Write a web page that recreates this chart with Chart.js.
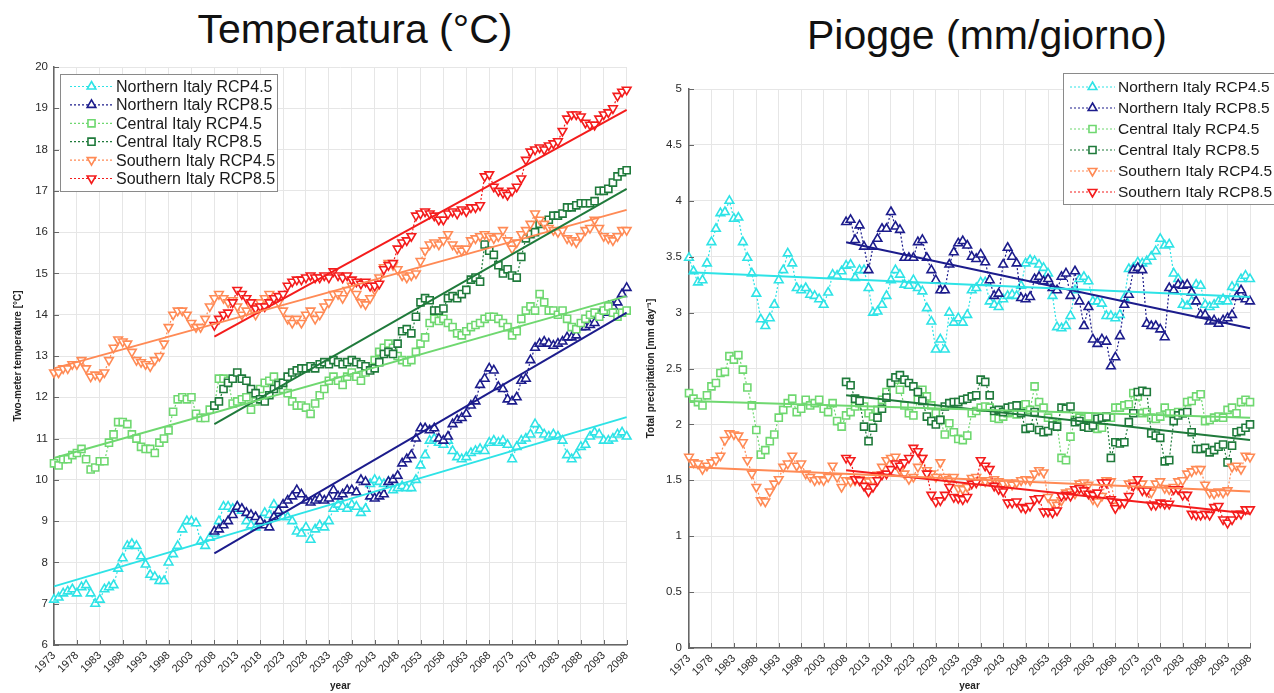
<!DOCTYPE html>
<html>
<head>
<meta charset="utf-8">
<script src="https://cdn.jsdelivr.net/npm/chart.js@4.4.1/dist/chart.umd.min.js"></script>
<style>
body { margin: 0; background: #fff; width: 1274px; height: 693px; overflow: hidden; position: relative; font-family: "Liberation Sans", Arial, sans-serif; }
.title { position: absolute; width: 420px; text-align: center; font-size: 41px; line-height: 41px; color: #111; }
#tempTitle { left: 145px; top: 9px; }
#rainTitle { left: 777px; top: 15px; }
#tempBox { position: absolute; left: 0; top: 0; }
#rainBox { position: absolute; left: 640px; top: 0; }
</style>
</head>
<body>
<div class="title" id="tempTitle">Temperatura (°C)</div>
<div class="title" id="rainTitle">Piogge (mm/giorno)</div>
<div id="tempBox"><canvas id="tempChart" width="640" height="693"></canvas></div>
<div id="rainBox"><canvas id="rainChart" width="634" height="693"></canvas></div>
<script>
// years: RCP4.5 runs cover 1973-2098, RCP8.5 runs start in 2008
const years = [];
for (let y = 1973; y <= 2098; y++) years.push(y);
const years85 = years.filter(y => y >= 2008);
const tickYears = [1973, 1978, 1983, 1988, 1993, 1998, 2003, 2008, 2013, 2018, 2023, 2028, 2033,
  2038, 2043, 2048, 2053, 2058, 2063, 2068, 2073, 2078, 2083, 2088, 2093, 2098];

const seriesLabels = ['Northern Italy RCP4.5', 'Northern Italy RCP8.5', 'Central Italy RCP4.5',
  'Central Italy RCP8.5', 'Southern Italy RCP4.5', 'Southern Italy RCP8.5'];

// temperature [°C]
const tNorth45 = [
  7.1, 7.15, 7.25, 7.3, 7.35, 7.25, 7.4, 7.45, 7.25, 7.0,
  7.1, 7.35, 7.4, 7.45, 7.85, 8.1, 8.4, 8.45, 8.4, 8.15,
  7.95, 7.7, 7.65, 7.55, 7.55, 8.0, 8.2, 8.4, 8.8, 9.0,
  9.0, 8.95, 8.5, 8.4, 8.6, 8.7, 9.0, 9.35, 9.35, 9.3,
  9.35, 9.25, 9.0, 8.9, 8.85, 9.0, 9.2, 9.15, 9.4, 9.2,
  9.1, 9.1, 9.0, 8.75, 8.7, 8.85, 8.55, 8.8, 8.9, 8.85,
  9.0, 9.3, 9.4, 9.35, 9.3, 9.4, 9.35, 9.2, 9.3, 9.9,
  10.0, 9.95, 9.9, 9.95, 9.75, 9.8, 9.85, 9.8, 9.8, 10.0,
  10.35, 10.6, 10.95, 11.0, 10.9, 10.85, 10.95, 10.7, 10.55, 10.5,
  10.55, 10.65, 10.7, 10.75, 10.7, 10.9, 10.95, 10.9, 10.95, 10.85,
  10.5, 10.8, 10.95, 11.0, 11.1, 11.35, 11.2, 11.1, 11.05, 11.1,
  11.05, 10.95, 10.6, 10.5, 10.6, 10.8, 10.85, 11.05, 11.15, 11.1,
  10.95, 10.95, 11.0, 11.1, 11.15, 11.05];
const tNorth85 = [
  8.75, 8.8, 8.9, 9.0, 9.15, 9.35, 9.3, 9.2, 9.15, 9.1,
  9.0, 8.9, 8.85, 9.1, 9.25, 9.4, 9.5, 9.6, 9.75, 9.65,
  9.5, 9.45, 9.5, 9.55, 9.5, 9.55, 9.75, 9.6, 9.65, 9.75,
  9.75, 9.7, 10.0, 9.95, 9.6, 9.55, 9.6, 9.65, 9.95, 10.0,
  10.1, 10.4, 10.5, 10.6, 11.0, 11.25, 11.25, 11.2, 11.25, 11.0,
  10.95, 11.05, 11.35, 11.45, 11.5, 11.6, 11.8, 11.9, 12.3, 12.45,
  12.7, 12.65, 12.25, 12.2, 11.95, 11.9, 12.0, 12.4, 12.45, 12.9,
  13.2, 13.3, 13.35, 13.3, 13.25, 13.3, 13.35, 13.45, 13.45, 13.5,
  13.7, 13.7, 13.75, 13.8, 14.0, 14.05, 14.2, 14.2, 14.3, 14.5,
  14.65];
const tCentral45 = [
  10.4, 10.35, 10.5, 10.5, 10.6, 10.65, 10.75, 10.5, 10.25, 10.3,
  10.45, 10.45, 10.9, 11.1, 11.4, 11.4, 11.35, 11.1, 11.0, 10.8,
  10.75, 10.75, 10.65, 10.9, 11.0, 11.2, 11.65, 11.95, 12.0, 11.95,
  12.0, 11.6, 11.5, 11.5, 11.7, 11.8, 12.45, 12.45, 12.4, 11.85,
  11.9, 11.95, 12.0, 11.7, 11.9, 12.2, 12.35, 12.4, 12.5, 12.35,
  12.2, 12.1, 11.9, 11.8, 11.8, 11.75, 11.6, 11.85, 12.05, 12.2,
  12.4, 12.5, 12.4, 12.3, 12.5, 12.6, 12.5, 12.4, 12.6, 12.7,
  12.9, 13.1, 13.2, 13.3, 13.2, 13.0, 12.9, 12.85, 12.9, 13.1,
  13.3, 13.45, 13.8, 13.9, 13.85, 13.9, 13.8, 13.7, 13.55, 13.5,
  13.6, 13.7, 13.75, 13.8, 13.9, 13.95, 13.95, 13.9, 13.8, 13.7,
  13.5, 13.6, 13.9, 14.1, 14.2, 14.1, 14.5, 14.3, 14.1, 14.1,
  14.0, 14.1, 13.9, 13.7, 13.65, 13.8, 13.9, 14.0, 14.05, 13.95,
  14.1, 14.2, 14.05, 13.95, 14.05, 14.1];
const tCentral85 = [
  11.8, 11.9, 12.2, 12.35, 12.45, 12.6, 12.45, 12.4, 12.2, 12.1,
  11.95, 11.9, 12.05, 12.2, 12.3, 12.35, 12.5, 12.6, 12.65, 12.7,
  12.7, 12.75, 12.7, 12.8, 12.85, 12.8, 12.9, 12.85, 12.8, 12.85,
  12.9, 12.85, 12.8, 12.75, 12.65, 12.7, 12.85, 13.05, 13.1, 13.05,
  13.3, 13.6, 13.65, 13.55, 13.95, 14.3, 14.4, 14.35, 14.1, 14.1,
  14.15, 14.4, 14.45, 14.4, 14.5, 14.6, 14.85, 14.9, 14.8, 15.7,
  15.55, 15.45, 15.2, 15.0, 15.1, 14.95, 14.9, 15.4, 15.85, 15.95,
  16.0, 16.2, 16.25, 16.3, 16.4, 16.4, 16.45, 16.6, 16.6, 16.65,
  16.7, 16.7, 16.7, 16.75, 17.0, 17.0, 17.05, 17.2, 17.35, 17.45,
  17.5];
const tSouth45 = [
  12.6, 12.6, 12.7, 12.7, 12.8, 12.8, 12.9, 12.7, 12.5, 12.55,
  12.5, 12.6, 12.9, 13.2, 13.4, 13.35, 13.3, 13.1, 12.9, 12.85,
  12.8, 12.75, 12.9, 13.0, 13.3, 13.7, 14.0, 14.1, 14.1, 14.0,
  13.8, 13.7, 13.7, 13.9, 14.2, 14.4, 14.5, 14.4, 14.3, 14.35,
  14.2, 14.0, 14.1, 14.2, 14.0, 14.3, 14.4, 14.5, 14.4, 14.3,
  14.1, 13.9, 13.8, 13.9, 13.8, 14.0, 14.1, 13.9, 14.0, 14.2,
  14.3, 14.5, 14.5, 14.4, 14.6, 14.7, 14.5, 14.3, 14.25, 14.4,
  14.6, 14.9, 15.15, 15.25, 15.2, 15.1, 14.95, 14.9, 14.95, 15.0,
  15.3, 15.55, 15.7, 15.75, 15.7, 15.8, 15.95, 15.7, 15.6, 15.55,
  15.6, 15.8, 15.85, 15.9, 15.95, 15.9, 15.85, 15.9, 16.05, 15.8,
  15.6, 15.75, 15.95, 16.05, 16.2, 16.45, 16.3, 16.2, 16.1, 16.05,
  16.0, 16.05, 15.85, 15.8, 15.75, 15.9, 16.05, 16.1, 16.3, 16.1,
  15.9, 15.85, 15.8, 15.9, 16.05, 16.05];
const tSouth85 = [
  13.75, 13.9, 14.0, 14.05, 14.3, 14.6, 14.5, 14.4, 14.3, 14.15,
  14.2, 14.2, 14.3, 14.4, 14.45, 14.5, 14.7, 14.8, 14.85, 14.85,
  14.9, 14.95, 14.9, 14.9, 14.95, 14.9, 15.05, 14.95, 14.9, 14.95,
  14.85, 14.8, 14.75, 14.8, 14.7, 14.7, 14.75, 15.1, 15.2, 15.25,
  15.6, 15.75, 15.8, 15.9, 16.4, 16.45, 16.5, 16.45, 16.4, 16.3,
  16.3, 16.45, 16.5, 16.45, 16.55, 16.5, 16.6, 16.6, 16.65, 17.35,
  17.4, 17.1, 17.0, 16.95, 16.9, 17.0, 17.1, 17.3, 17.75, 17.95,
  18.0, 18.05, 18.0, 18.1, 18.15, 18.2, 18.45, 18.75, 18.85, 18.85,
  18.8, 18.65, 18.6, 18.6, 18.75, 18.85, 18.9, 19.0, 19.3, 19.4,
  19.45];
// linear trend, value at first and last year
const tTrendNorth45 = [7.42, 11.52];
const tTrendNorth85 = [8.22, 14.05];
const tTrendCentral45 = [10.53, 14.45];
const tTrendCentral85 = [11.35, 17.05];
const tTrendSouth45 = [12.7, 16.54];
const tTrendSouth85 = [13.47, 18.96];

// precipitation [mm/day]
const pNorth45 = [
  3.49, 3.37, 3.27, 3.29, 3.44, 3.63, 3.75, 3.89, 3.9, 4.0,
  3.84, 3.85, 3.63, 3.49, 3.35, 3.17, 2.94, 2.88, 2.95, 3.07,
  3.29, 3.38, 3.53, 3.44, 3.22, 3.2, 3.22, 3.16, 3.15, 3.12,
  3.07, 3.18, 3.34, 3.33, 3.37, 3.42, 3.43, 3.31, 3.38, 3.38,
  3.22, 3.0, 3.01, 3.07, 3.15, 3.29, 3.38, 3.34, 3.25, 3.24,
  3.29, 3.22, 3.19, 3.04, 2.92, 2.67, 2.76, 2.67, 3.0, 2.91,
  2.95, 2.91, 2.98, 3.2, 3.22, 3.27, 3.27, 3.1, 3.07, 3.05,
  3.12, 3.15, 3.16, 3.15, 3.24, 3.44, 3.47, 3.46, 3.43, 3.4,
  3.35, 3.15, 2.87, 2.86, 2.88, 2.97, 3.2, 3.3, 3.32, 3.28,
  3.1, 3.1, 3.08, 2.97, 2.97, 2.95, 2.98, 3.13, 3.39, 3.4,
  3.45, 3.44, 3.46, 3.5, 3.55, 3.66, 3.6, 3.61, 3.35, 3.3,
  3.07, 3.06, 3.1, 3.25, 3.24, 3.07, 3.05, 3.07, 3.1, 3.12,
  3.1, 3.23, 3.22, 3.3, 3.33, 3.3];
const pNorth85 = [
  3.81, 3.83, 3.65, 3.78, 3.59, 3.38, 3.59, 3.66, 3.75, 3.75,
  3.9, 3.77, 3.74, 3.49, 3.49, 3.49, 3.63, 3.65, 3.49, 3.38,
  3.29, 3.2, 3.2, 3.43, 3.54, 3.62, 3.64, 3.6, 3.5, 3.48,
  3.52, 3.45, 3.29, 3.15, 3.17, 3.43, 3.58, 3.5, 3.44, 3.13,
  3.12, 3.14, 3.3, 3.32, 3.28, 3.3, 3.22, 3.2, 3.32, 3.35,
  3.15, 3.37, 3.1, 2.88, 3.05, 2.76, 2.72, 2.76, 2.74, 2.52,
  2.6, 2.79, 3.07, 3.16, 3.38, 3.4, 3.38, 2.9, 2.88, 2.88,
  2.85, 2.78, 3.22, 3.2, 3.25, 3.24, 3.25, 3.18, 3.1, 2.98,
  2.98, 2.92, 2.93, 2.9, 2.93, 2.95, 2.98, 3.14, 3.2, 3.12,
  3.1];
const pCentral45 = [
  2.28, 2.23, 2.2, 2.17, 2.26, 2.34, 2.37, 2.46, 2.47, 2.61,
  2.58, 2.62, 2.49, 2.33, 2.17, 1.95, 1.73, 1.77, 1.85, 1.91,
  2.06, 2.13, 2.19, 2.23, 2.11, 2.14, 2.22, 2.17, 2.19, 2.22,
  2.14, 2.11, 2.19, 2.03, 1.98, 2.08, 2.11, 2.16, 2.19, 2.16,
  2.1, 2.07, 2.13, 2.22, 2.29, 2.37, 2.4, 2.31, 2.17, 2.1,
  2.08, 2.22, 2.31, 2.25, 2.17, 2.1, 2.04, 1.91, 2.01, 1.93,
  1.87, 1.86, 1.9, 2.1, 2.12, 2.15, 2.16, 2.15, 2.06, 2.05,
  2.07, 2.1, 2.11, 2.09, 2.17, 2.18, 2.13, 2.34, 2.2, 2.15,
  2.06, 2.02, 2.0, 1.7, 1.68, 1.89, 2.04, 2.06, 2.05, 2.07,
  1.98, 1.96, 1.97, 2.06, 2.06, 2.15, 2.15, 2.17, 2.18, 2.28,
  2.25, 2.1, 2.11, 2.06, 2.05, 2.07, 2.15, 2.1, 2.1, 2.11,
  2.1, 2.2, 2.21, 2.25, 2.27, 2.03, 2.04, 2.06, 2.07, 2.06,
  2.13, 2.15, 2.1, 2.2, 2.22, 2.2];
const pCentral85 = [
  2.38, 2.35, 2.23, 2.21, 1.98, 1.85, 1.97, 2.06, 2.14, 2.24,
  2.37, 2.42, 2.44, 2.4, 2.37, 2.34, 2.29, 2.21, 2.07, 2.03,
  2.0, 2.04, 2.16, 2.19, 2.2, 2.2, 2.22, 2.23, 2.25, 2.26,
  2.4, 2.38, 2.26, 2.12, 2.13, 2.11, 2.15, 2.16, 2.17, 2.1,
  1.96, 1.97, 2.11, 1.95, 1.93, 1.94, 1.99, 1.98, 2.15, 2.14,
  2.16, 2.02, 2.03, 1.98, 1.97, 1.99, 2.05, 2.06, 2.07, 1.7,
  1.84, 1.83, 1.84, 2.02, 2.1, 2.29, 2.3, 2.29, 1.92, 1.9,
  1.88, 1.67, 1.68, 2.03, 2.08, 2.1, 2.11, 1.93, 1.78, 1.78,
  1.79, 1.75, 1.77, 1.8, 1.82, 1.66, 1.81, 1.93, 1.94, 1.97,
  2.0];
const pSouth45 = [
  1.71, 1.66, 1.65, 1.6, 1.63, 1.66, 1.68, 1.72, 1.86, 1.92,
  1.91, 1.9, 1.84, 1.68, 1.56, 1.44, 1.32, 1.31, 1.4, 1.47,
  1.51, 1.62, 1.65, 1.72, 1.63, 1.65, 1.56, 1.53, 1.5, 1.51,
  1.5, 1.53, 1.63, 1.53, 1.44, 1.5, 1.49, 1.5, 1.51, 1.5,
  1.49, 1.5, 1.55, 1.62, 1.68, 1.7, 1.71, 1.59, 1.56, 1.51,
  1.53, 1.62, 1.7, 1.59, 1.56, 1.53, 1.66, 1.53, 1.51, 1.53,
  1.43, 1.42, 1.44, 1.52, 1.53, 1.5, 1.49, 1.5, 1.51, 1.49,
  1.47, 1.48, 1.46, 1.48, 1.5, 1.51, 1.5, 1.56, 1.59, 1.57,
  1.35, 1.3, 1.28, 1.32, 1.39, 1.4, 1.38, 1.47, 1.48, 1.46,
  1.33, 1.31, 1.36, 1.5, 1.49, 1.27, 1.29, 1.3, 1.47, 1.48,
  1.46, 1.47, 1.4, 1.39, 1.47, 1.49, 1.43, 1.42, 1.44, 1.49,
  1.5, 1.56, 1.58, 1.6, 1.6, 1.46, 1.39, 1.38, 1.4, 1.39,
  1.41, 1.62, 1.63, 1.6, 1.72, 1.71];
const pSouth85 = [
  1.7, 1.68, 1.51, 1.5, 1.45, 1.4, 1.44, 1.5, 1.55, 1.56,
  1.6, 1.65, 1.63, 1.66, 1.7, 1.79, 1.76, 1.7, 1.56, 1.37,
  1.31, 1.32, 1.37, 1.44, 1.35, 1.34, 1.33, 1.35, 1.47, 1.48,
  1.68, 1.63, 1.6, 1.45, 1.42, 1.4, 1.3, 1.3, 1.31, 1.26,
  1.25, 1.27, 1.33, 1.34, 1.22, 1.22, 1.21, 1.23, 1.36, 1.37,
  1.36, 1.42, 1.43, 1.41, 1.38, 1.37, 1.39, 1.48, 1.48, 1.33,
  1.25, 1.3, 1.3, 1.36, 1.45, 1.51, 1.41, 1.41, 1.28, 1.28,
  1.3, 1.29, 1.29, 1.42, 1.42, 1.37, 1.37, 1.2, 1.19, 1.19,
  1.2, 1.19, 1.26, 1.27, 1.15, 1.12, 1.15, 1.2, 1.2, 1.24,
  1.24];
const pTrendNorth45 = [3.36, 3.14];
const pTrendNorth85 = [3.63, 2.86];
const pTrendCentral45 = [2.21, 2.06];
const pTrendCentral85 = [2.26, 1.86];
const pTrendSouth45 = [1.62, 1.4];
const pTrendSouth85 = [1.59, 1.2];

const colors = ['#2ee3e6', '#1c1c8c', '#6fd870', '#1f7a3b', '#ff8a55', '#f41c1c'];
const styles = ['triangle', 'triangle', 'rect', 'rect', 'triangle', 'triangle'];
const rotations = [0, 0, 0, 0, 180, 180];
const FONT = '"Liberation Sans", Arial, sans-serif';

function series(i, yrs, vals) {
  return {
    label: seriesLabels[i],
    data: vals.map((v, k) => ({ x: yrs[k], y: v })),
    borderColor: colors[i],
    backgroundColor: '#fff',
    borderWidth: 1.2,
    borderDash: [2, 2],
    pointStyle: styles[i],
    pointRotation: rotations[i],
    pointRadius: 5,
    pointBorderWidth: 1.6,
    pointBackgroundColor: '#fff',
    pointBorderColor: colors[i],
    order: 6 - i,
    clip: false
  };
}

function trend(i, yrs, ends) {
  return {
    isTrend: true,
    data: [{ x: yrs[0], y: ends[0] }, { x: yrs[yrs.length - 1], y: ends[1] }],
    borderColor: colors[i],
    borderWidth: 2,
    pointRadius: 0,
    order: 0,
    clip: false
  };
}

// short inward tick marks on the left and bottom axes
const innerTicks = {
  id: 'innerTicks',
  afterDatasetsDraw(chart) {
    const { ctx, chartArea: a, scales: { x, y } } = chart;
    ctx.save();
    ctx.strokeStyle = '#666';
    ctx.lineWidth = 1;
    ctx.beginPath();
    x.ticks.forEach(t => { const px = Math.round(x.getPixelForValue(t.value)) + 0.5; ctx.moveTo(px, a.bottom); ctx.lineTo(px, a.bottom - 5); });
    y.ticks.forEach(t => { const py = Math.round(y.getPixelForValue(t.value)) + 0.5; ctx.moveTo(a.left, py); ctx.lineTo(a.left + 5, py); });
    ctx.stroke();
    ctx.restore();
  }
};

// matlab style legend box drawn inside the plot
const legendBox = {
  id: 'legendBox',
  afterDraw(chart, args, o) {
    const ctx = chart.ctx;
    ctx.save();
    ctx.fillStyle = '#fff';
    ctx.fillRect(o.x, o.y, o.w, o.h);
    ctx.strokeStyle = '#8a8a8a';
    ctx.lineWidth = 1;
    ctx.strokeRect(o.x + 0.5, o.y + 0.5, o.w, o.h);
    ctx.font = o.font;
    ctx.textBaseline = 'middle';
    chart.data.datasets.filter(d => !d.isTrend).forEach((d, i) => {
      const cy = o.y + o.first + i * o.step;
      ctx.strokeStyle = d.borderColor;
      ctx.lineWidth = 1.2;
      ctx.setLineDash([2, 2]);
      ctx.beginPath();
      ctx.moveTo(o.x + o.lineFrom, cy);
      ctx.lineTo(o.x + o.lineTo, cy);
      ctx.stroke();
      ctx.setLineDash([]);
      ctx.fillStyle = '#fff';
      ctx.lineWidth = 1.6;
      Chart.helpers.drawPoint(ctx, { pointStyle: d.pointStyle, rotation: d.pointRotation, radius: 5, borderWidth: 1.6 },
        o.x + (o.lineFrom + o.lineTo) / 2, cy);
      ctx.fillStyle = '#1a1a1a';
      ctx.fillText(d.label, o.x + o.text, cy + 1);
    });
    ctx.restore();
  }
};

function makeChart(id, sets, yOpts, legendOpts, box) {
  return new Chart(document.getElementById(id), {
    type: 'line',
    data: { datasets: sets },
    plugins: [innerTicks, legendBox],
    options: {
      responsive: false,
      animation: false,
      events: [],
      layout: { padding: { left: 0, right: box.right, top: box.top, bottom: 0 } },
      plugins: { legend: { display: false }, tooltip: { enabled: false }, legendBox: legendOpts },
      scales: {
        x: {
          type: 'linear',
          min: 1973,
          max: 2098,
          afterBuildTicks: a => { a.ticks = tickYears.map(v => ({ value: v })); },
          afterFit: a => { a.height = box.xh; },
          ticks: { minRotation: 45, maxRotation: 45, autoSkip: false, padding: 4, color: '#2a2a2a',
            font: { family: FONT, size: 11 }, callback: v => String(v) },
          grid: { color: '#e6e6e6', drawTicks: false },
          border: { color: '#666', width: 1.5 },
          title: { display: true, text: 'year', color: '#222', font: { family: FONT, size: 10, weight: 'bold' },
            padding: { top: 0, bottom: 1 } }
        },
        y: Object.assign({
          afterFit: a => { a.width = box.yw; },
          grid: { color: '#e6e6e6', drawTicks: false },
          border: { color: '#666', width: 1.5 }
        }, yOpts)
      }
    }
  });
}

makeChart('tempChart', [
  series(0, years, tNorth45), series(1, years85, tNorth85),
  series(2, years, tCentral45), series(3, years85, tCentral85),
  series(4, years, tSouth45), series(5, years85, tSouth85),
  trend(0, years, tTrendNorth45), trend(1, years85, tTrendNorth85),
  trend(2, years, tTrendCentral45), trend(3, years85, tTrendCentral85),
  trend(4, years, tTrendSouth45), trend(5, years85, tTrendSouth85)
], {
  min: 6, max: 20,
  ticks: { stepSize: 1, padding: 6, color: '#2a2a2a', font: { family: FONT, size: 11.5 }, callback: v => String(v) },
  title: { display: true, text: 'Two-meter temperature [°C]', color: '#222',
    font: { family: FONT, size: 10, weight: 'bold' }, padding: { top: 12, bottom: 0 } }
}, { x: 60, y: 74, w: 217, h: 117, first: 12.5, step: 18.4, lineFrom: 10, lineTo: 53, text: 56,
  font: '16px ' + FONT }, { right: 6, top: 67, xh: 48, yw: 54 });

makeChart('rainChart', [
  series(0, years, pNorth45), series(1, years85, pNorth85),
  series(2, years, pCentral45), series(3, years85, pCentral85),
  series(4, years, pSouth45), series(5, years85, pSouth85),
  trend(0, years, pTrendNorth45), trend(1, years85, pTrendNorth85),
  trend(2, years, pTrendCentral45), trend(3, years85, pTrendCentral85),
  trend(4, years, pTrendSouth45), trend(5, years85, pTrendSouth85)
], {
  min: 0, max: 5,
  ticks: { stepSize: 0.5, padding: 7, color: '#2a2a2a', font: { family: FONT, size: 11.5 }, callback: v => String(v) },
  title: { display: true, text: 'Total precipitation [mm day⁻¹]', color: '#222',
    font: { family: FONT, size: 10, weight: 'bold' }, padding: { top: 5, bottom: 0 } }
}, { x: 423, y: 73, w: 216, h: 131, first: 14, step: 21, lineFrom: 7, lineTo: 52, text: 55,
  font: '15.5px ' + FONT }, { right: 24, top: 89, xh: 45, yw: 49 });
</script>
</body>
</html>
